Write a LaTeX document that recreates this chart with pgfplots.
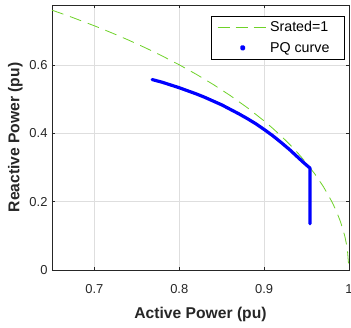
\documentclass[border=0pt]{standalone}
\usepackage{pgfplots}
\pgfplotsset{compat=1.18}
\usepackage{fontspec}
\setmainfont{Liberation Sans}
\definecolor{sgreen}{RGB}{110,210,40}
\definecolor{axgray}{RGB}{38,38,38}
\begin{document}
\begin{tikzpicture}
\begin{axis}[
  scale only axis, width=297bp, height=265bp,
  xmin=0.65, xmax=1, ymin=0, ymax=0.775,
  xtick={0.7,0.8,0.9,1}, xticklabels={0.7,0.8,0.9,1},
  ytick={0,0.2,0.4,0.6}, yticklabels={0,0.2,0.4,0.6},
  grid=major, major grid style={draw=black!13, line width=0.5bp},
  axis line style={draw=axgray, line width=0.5bp},
  tick style={draw=axgray, line width=0.5bp}, major tick length=3bp,
  tick align=inside,
  tick label style={font=\fontsize{13}{13}\selectfont, text=axgray},
  xticklabel style={yshift=-11bp},
  yticklabel style={xshift=-1bp},
  label style={font=\bfseries\fontsize{15.7}{16}\selectfont, text=axgray},
  xlabel style={yshift=-7bp},
  xlabel={Active Power (pu)}, ylabel={Reactive Power (pu)},
  legend cell align=left,
  legend style={at={(0.985,0.96)}, anchor=north east, draw=black, fill=white,
    line width=0.5bp, font=\fontsize{14.3}{14.3}\selectfont,
    inner xsep=6bp, inner ysep=3.5bp, row sep=5bp,
    /tikz/every even column/.append style={column sep=5bp}},
]
\addplot[sgreen, line width=0.8bp, dash pattern=on 12bp off 7bp,
  legend image code/.code={\draw[sgreen, line width=0.8bp, dash pattern=on 12bp off 6bp] (0bp,0bp) -- (50bp,0bp);}]
  coordinates {
  (0.65,0.7599) (0.67,0.7424) (0.70,0.7141) (0.72,0.6940) (0.74,0.6726)
  (0.76,0.6499) (0.78,0.6258) (0.80,0.6000) (0.82,0.5724) (0.84,0.5426)
  (0.86,0.5103) (0.88,0.4750) (0.90,0.4359) (0.91,0.4146) (0.92,0.3919)
  (0.93,0.3676) (0.94,0.3412) (0.95,0.3122) (0.96,0.2800) (0.97,0.2431)
  (0.98,0.1990) (0.985,0.1726) (0.99,0.1411) (0.995,0.0999) (0.998,0.0632)
  (1.0,0.0)
  };
\addlegendentry{Srated=1\rule{8bp}{0pt}}
\addplot[blue, line width=3.2bp, line join=round, line cap=round,
  legend image code/.code={\fill[blue] (25bp,0bp) circle (1.3bp);}]
  coordinates {
  (0.768,0.557) (0.780,0.549) (0.790,0.541) (0.800,0.533) (0.810,0.524)
  (0.820,0.515) (0.830,0.505) (0.840,0.494) (0.850,0.483) (0.860,0.470)
  (0.870,0.457) (0.880,0.443) (0.890,0.428) (0.900,0.411) (0.910,0.393)
  (0.920,0.373) (0.930,0.352) (0.940,0.329) (0.947,0.313) (0.954,0.298)
  (0.954,0.280) (0.954,0.260) (0.954,0.240) (0.954,0.220) (0.954,0.200)
  (0.954,0.180) (0.954,0.160) (0.954,0.140) (0.954,0.135)
  };
\addlegendentry{PQ curve}
\end{axis}
\pgfresetboundingbox
\path ([xshift=-52bp,yshift=-58bp]current axis.south west) rectangle ([xshift=2bp,yshift=5bp]current axis.north east);
\end{tikzpicture}
\end{document}
